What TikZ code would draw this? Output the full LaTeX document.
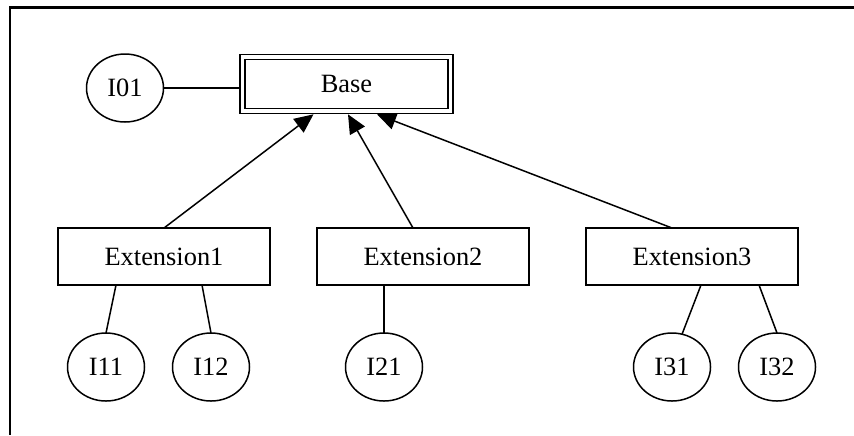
\documentclass[tikz,border=0pt]{standalone}
\usepackage{fontspec}
\setmainfont{Liberation Serif}
\usetikzlibrary{calc, arrows.meta, positioning, shapes.geometric}
\tikzset{
  cls/.style={rectangle,draw,line width=0.75pt,minimum width=106pt,minimum height=28.5pt,inner sep=0pt,outer sep=0pt},
  basecls/.style={rectangle,draw,line width=0.8pt,double,double distance=1.7pt,minimum width=104pt,minimum height=27pt,inner sep=0pt,outer sep=1.65pt},
  iface/.style={ellipse,draw,line width=0.75pt,minimum width=38.5pt,minimum height=34pt,inner sep=0pt,outer sep=0pt},
  link/.style={line width=0.75pt},
  inherit/.style={-{Triangle[length=9.5pt,width=8.5pt]}, line width=0.75pt}
}

\begin{document}
\begin{tikzpicture}[x=0.5pt, y=-0.5pt, font=\fontsize{13.2}{15}\selectfont]
  \useasboundingbox (0,0) rectangle (854,435);
  \draw[line width=1.1pt] (854,7.5) -- (10,7.5) -- (10,435);
  % top row
  \node[basecls] (base) at (346.5,84) {Base};
  \node[iface] (I01) at (125,88) {I01};
  \draw[link] (I01.east) -- (I01.east -| base.west);
  % classes
  \node[cls] (ext1) at (164,256.5) {Extension1};
  \node[cls, right=23.5pt of ext1] (ext2) {Extension2};
  \node[cls, right=28.5pt of ext2] (ext3) {Extension3};
  \draw[inherit] (ext1.north) -- ($(base.south)+(-16.5pt,0)$);
  \draw[inherit] ($(ext2.north)+(-5pt,0)$) -- ($(base.south)+(0.75pt,0)$);
  \draw[inherit] ($(ext3.north)+(-10pt,0)$) -- ($(base.south)+(15.25pt,0)$);
  % interfaces
  \node[iface] (I11) at (106,367) {I11};
  \node[iface, right=14pt of I11] (I12) {I12};
  \node[iface] (I21) at (384,367) {I21};
  \node[iface] (I31) at (672,367) {I31};
  \node[iface, right=14pt of I31] (I32) {I32};
  \draw[link] ($(ext1.south)+(-24pt,0)$) -- (I11.north);
  \draw[link] ($(ext1.south)+(19pt,0)$) -- (I12.north);
  \draw[link] (ext2.south -| I21.north) -- (I21.north);
  \draw[link] ($(ext3.south)+(4.5pt,0)$) -- (I31.73);
  \draw[link] ($(ext3.south)+(33.5pt,0)$) -- (I32.north);
\end{tikzpicture}
\end{document}
